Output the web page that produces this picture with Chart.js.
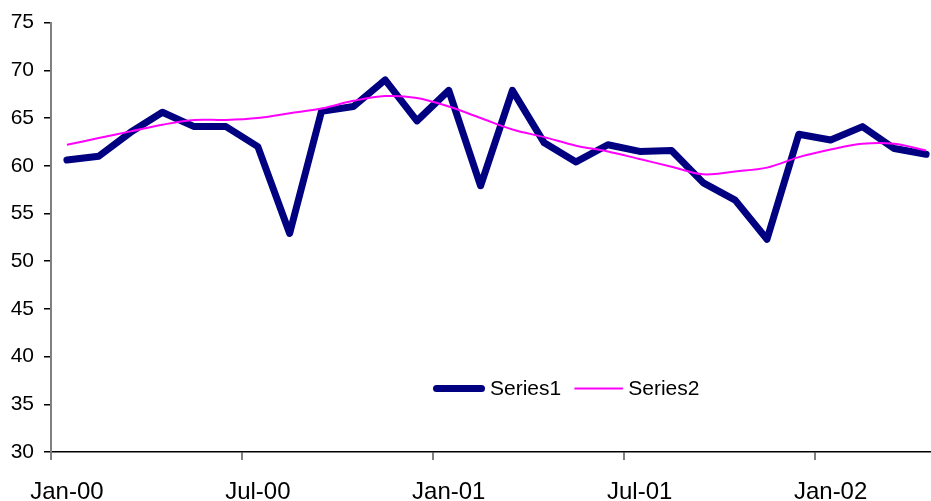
<!DOCTYPE html>
<html>
<head>
<meta charset="utf-8">
<script src="https://cdn.jsdelivr.net/npm/chart.js@4/dist/chart.umd.min.js"></script>
<style>
  html, body { margin: 0; padding: 0; background: #fff; overflow: hidden; }
  #wrap { width: 931px; height: 501px; overflow: hidden; }
</style>
</head>
<body>
<div id="wrap"><canvas id="chart" width="945" height="501"></canvas></div>
<script>
// monthly categories, Jan-00 .. Apr-02
const months = [
  'Jan-00', 'Feb-00', 'Mar-00', 'Apr-00', 'May-00', 'Jun-00',
  'Jul-00', 'Aug-00', 'Sep-00', 'Oct-00', 'Nov-00', 'Dec-00',
  'Jan-01', 'Feb-01', 'Mar-01', 'Apr-01', 'May-01', 'Jun-01',
  'Jul-01', 'Aug-01', 'Sep-01', 'Oct-01', 'Nov-01', 'Dec-01',
  'Jan-02', 'Feb-02', 'Mar-02', 'Apr-02'
];

const series1 = [
  60.6, 61.0, 63.5, 65.6, 64.1, 64.1, 62.0, 52.9, 65.7, 66.2, 69.0, 64.7,
  67.9, 57.9, 67.9, 62.4, 60.4, 62.2, 61.5, 61.6, 58.2, 56.4, 52.3, 63.3,
  62.7, 64.1, 61.8, 61.2
];

const series2 = [
  62.2, 62.9, 63.6, 64.3, 64.8, 64.8, 65.0, 65.5, 66.0, 66.8, 67.3, 67.1,
  66.2, 65.0, 63.8, 63.0, 62.1, 61.5, 60.7, 59.9, 59.1, 59.4, 59.8, 60.9,
  61.7, 62.3, 62.3, 61.6
];

const yTicks = { min: 30, max: 75, step: 5 };
const labelEvery = 6;

const FONT = '"Liberation Sans", Arial, sans-serif';

// legend drawn inside the plot area, like the original
const innerLegend = {
  id: 'innerLegend',
  afterDraw(chart) {
    const ctx = chart.ctx;
    const area = chart.chartArea;
    let x = area.left + 382;
    const y = area.top + 366;
    ctx.save();
    ctx.font = '21px ' + FONT;
    ctx.textBaseline = 'middle';
    ctx.textAlign = 'left';
    chart.data.datasets.forEach(function(ds) {
      const w = ds.borderWidth;
      const len = ds.legendLen;
      ctx.beginPath();
      ctx.lineCap = 'round';
      ctx.strokeStyle = ds.borderColor;
      ctx.lineWidth = w;
      ctx.moveTo(x + w / 2, y);
      ctx.lineTo(x + len - w / 2, y);
      ctx.stroke();
      x += len + 5;
      ctx.fillStyle = '#000';
      ctx.fillText(ds.label, x, y + 1);
      x += ctx.measureText(ds.label).width + 13;
    });
    ctx.restore();
  }
};

new Chart(document.getElementById('chart'), {
  type: 'line',
  data: {
    labels: months,
    datasets: [
      {
        label: 'Series1',
        data: series1,
        borderColor: '#000080',
        borderWidth: 7,
        borderCapStyle: 'round',
        borderJoinStyle: 'round',
        pointRadius: 0,
        tension: 0,
        order: 1,
        legendLen: 52
      },
      {
        label: 'Series2',
        data: series2,
        borderColor: '#FF00FF',
        borderWidth: 2,
        pointRadius: 0,
        tension: 0.35,
        order: 0,
        legendLen: 49
      }
    ]
  },
  options: {
    responsive: false,
    animation: false,
    layout: { padding: { top: 22, right: 3, left: 0, bottom: 0 } },
    plugins: {
      legend: { display: false },
      tooltip: { enabled: false }
    },
    scales: {
      x: {
        offset: true,
        grid: {
          offset: true,
          drawOnChartArea: false,
          tickLength: 8,
          lineWidth: 2,
          color: function(c) { return c.index % labelEvery === 0 ? '#808080' : 'rgba(0,0,0,0)'; }
        },
        border: { color: '#000', width: 1.5 },
        ticks: {
          autoSkip: false,
          maxRotation: 0,
          padding: 18,
          color: '#000',
          font: { family: FONT, size: 24 },
          callback: function(val, i) { return i % labelEvery === 0 ? this.getLabelForValue(val) : ''; }
        },
        afterFit: function(scale) { scale.height = 49; }
      },
      y: {
        min: yTicks.min,
        max: yTicks.max,
        grid: { drawOnChartArea: false, tickLength: 7, color: '#000', lineWidth: 1.5 },
        border: { color: '#808080', width: 2 },
        ticks: {
          stepSize: yTicks.step,
          padding: 10,
          color: '#000',
          font: { family: FONT, size: 21 }
        },
        afterFit: function(scale) { scale.width = 51; }
      }
    }
  },
  plugins: [innerLegend]
});
</script>
</body>
</html>
